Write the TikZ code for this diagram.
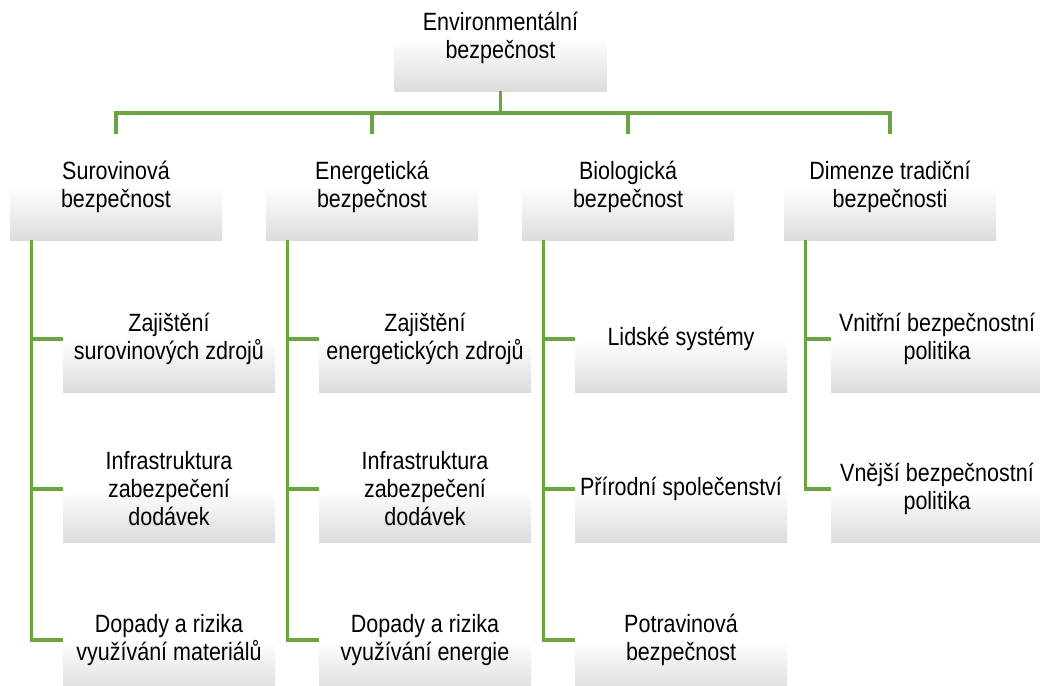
\documentclass[tikz,border=0pt]{standalone}
\usepackage{fontspec}
\setmainfont{Liberation Sans}[FakeStretch=0.86]
\usetikzlibrary{positioning, calc}

\begin{document}
\begin{tikzpicture}[
    x=1pt, y=1pt,
    font=\fontsize{25}{28}\selectfont,
    node distance=150pt,     % Default spacing between child rows
    on grid,
    block/.style={
        inner sep=0pt,
        align=center,
        minimum width=212pt,
        minimum height=106pt,
        top color=white,
        bottom color=colorBox,
        middle color=white
    },
    link/.style={
        draw=colorLink,
        line width=3.2pt
    }
]

%--- Define colors ---
\definecolor{colorBox}{RGB}{220,220,220}     % Gray bottom of the boxes
\definecolor{colorLink}{RGB}{106,164,67}     % Green connectors

% Frame of the picture
\clip (0,0) rectangle (1040,-685);

%------------------------------------
% TOP: ROOT
%------------------------------------
\node[block] (env) at (500.5,-38)
{Environmentální\\bezpečnost};

%------------------------------------
% SECOND ROW: FOUR BRANCHES
%------------------------------------
\node[block] (suro) at (116,-187)
{Surovinová\\bezpečnost};

\node[block, right=256pt of suro] (ener)
{Energetická\\bezpečnost};

\node[block, right=256pt of ener] (bio)
{Biologická\\bezpečnost};

\node[block, right=262pt of bio] (dim)
{Dimenze tradiční\\bezpečnosti};

%------------------------------------
% CHILDREN
%------------------------------------

% Surovinová
\node[block, below right=152pt and 53pt of suro] (suroA)
{Zajištění\\surovinových zdrojů};
\node[block, below=of suroA] (suroB)
{Infrastruktura\\zabezpečení\\dodávek};
\node[block, below=151pt of suroB] (suroC)
{Dopady a rizika\\využívání materiálů};

% Energetická
\node[block, below right=152pt and 53pt of ener] (enerA)
{Zajištění\\energetických zdrojů};
\node[block, below=of enerA] (enerB)
{Infrastruktura\\zabezpečení\\dodávek};
\node[block, below=151pt of enerB] (enerC)
{Dopady a rizika\\využívání energie};

% Biologická
\node[block, below right=152pt and 53pt of bio] (bioA)
{Lidské systémy};
\node[block, below=of bioA] (bioB)
{Přírodní společenství};
\node[block, below=151pt of bioB] (bioC)
{Potravinová\\bezpečnost};

% Dimenze tradiční bezpečnosti
\node[block, below right=152pt and 47pt of dim] (dimA)
{Vnitřní bezpečnostní\\politika};
\node[block, below=of dimA] (dimB)
{Vnější bezpečnostní\\politika};

%------------------
% EDGES
%------------------

% Root to the four branches
\coordinate (bus) at (0,-113);
\draw[link] (env.south) -- (env.south |- bus);
\draw[link] ([xshift=-1.6pt]suro.north |- bus) -- ([xshift=1.6pt]dim.north |- bus);
\foreach \n in {suro, ener, bio, dim}
    \draw[link] (\n.north |- bus) -- (\n.north);

% Branches to their children
\foreach \n/\last in {suro/suroC, ener/enerC, bio/bioC}
{
    \draw[link] ([xshift=22pt]\n.south west) |- (\last.west);
    \draw[link] ([xshift=22pt]\n.south west) |- (\n A.west);
    \draw[link] ([xshift=22pt]\n.south west) |- (\n B.west);
}
\draw[link] ([xshift=22pt]dim.south west) |- (dimB.west);
\draw[link] ([xshift=22pt]dim.south west) |- (dimA.west);

\end{tikzpicture}
\end{document}
